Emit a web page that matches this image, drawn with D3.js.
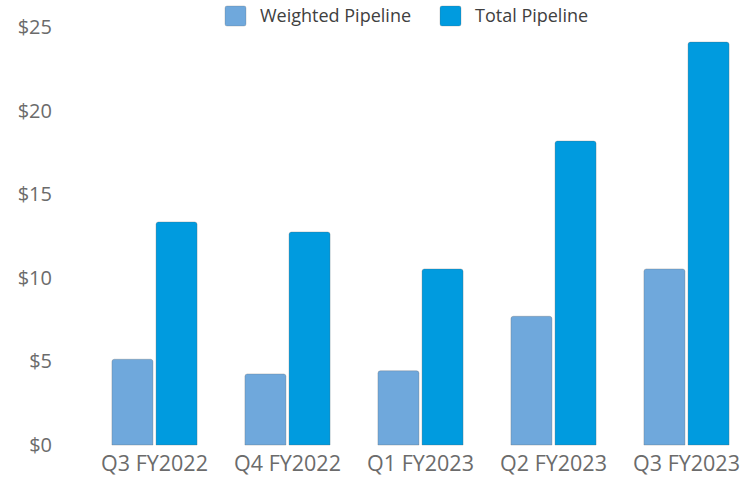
<!DOCTYPE html>
<html>
<head>
<meta charset="utf-8">
<script src="https://cdn.jsdelivr.net/npm/d3@7"></script>
<style>
  html, body { margin: 0; padding: 0; background: #fff; }
  svg { display: block; font-family: "Open Sans", "Liberation Sans", sans-serif; }
</style>
</head>
<body>
<svg id="chart" width="749" height="480"></svg>
<script>
const categories = ["Q3 FY2022", "Q4 FY2022", "Q1 FY2023", "Q2 FY2023", "Q3 FY2023"];
const seriesNames = ["Weighted Pipeline", "Total Pipeline"];
const weighted = [5.13, 4.25, 4.44, 7.7, 10.53];
const total = [13.34, 12.74, 10.53, 18.18, 24.1];
const yTicks = [0, 5, 10, 15, 20, 25];
const colors = ["#6fa8dc", "#009bdf"];

const svg = d3.select("#chart");
const x0 = d3.scaleBand().domain(categories).range([88, 753]).paddingInner(0.36).paddingOuter(0.18);
const x1 = d3.scaleBand().domain(seriesNames).range([0, x0.bandwidth()]).paddingInner(0.07);
const y = d3.scaleLinear().domain([0, 25]).range([445, 27]);
const color = d3.scaleOrdinal().domain(seriesNames).range(colors);

// Y axis (labels only)
const yAxis = svg.append("g").attr("transform", "translate(52,0)")
  .call(d3.axisLeft(y).tickValues(yTicks).tickSize(0).tickPadding(0).tickFormat(d => "$" + d));
yAxis.select(".domain").remove();
yAxis.selectAll("text").attr("fill", "#6b6b6b").style("font-size", "20px")
  .style("font-family", "'Open Sans', sans-serif");

// X axis (labels only)
const xAxis = svg.append("g").attr("transform", "translate(0,445)")
  .call(d3.axisBottom(x0).tickSize(0).tickPadding(11));
xAxis.select(".domain").remove();
xAxis.selectAll("text").attr("fill", "#6b6b6b").style("font-size", "21.5px")
  .style("font-family", "'Open Sans', sans-serif");

// Bars
const data = categories.map((c, i) => ({ cat: c, vals: [
  { key: seriesNames[0], v: weighted[i] },
  { key: seriesNames[1], v: total[i] }
]}));

function roundedTop(xp, yp, w, h, r) {
  return `M${xp},${yp + h}V${yp + r}Q${xp},${yp} ${xp + r},${yp}H${xp + w - r}Q${xp + w},${yp} ${xp + w},${yp + r}V${yp + h}Z`;
}

svg.append("g").selectAll("g").data(data).join("g")
  .attr("transform", d => `translate(${x0(d.cat)},0)`)
  .selectAll("path").data(d => d.vals).join("path")
  .attr("d", d => roundedTop(x1(d.key), y(d.v), x1.bandwidth(), y(0) - y(d.v), 2.5))
  .attr("fill", d => color(d.key))
  .attr("stroke", "rgba(90,90,90,0.35)")
  .attr("stroke-width", 0.8);

// Legend
const legendX = [225, 440];
const legend = svg.append("g");
seriesNames.forEach((s, i) => {
  const g = legend.append("g").attr("transform", `translate(${legendX[i]},6)`);
  g.append("rect").attr("width", 21).attr("height", 20).attr("rx", 2)
    .attr("fill", color(s)).attr("stroke", "rgba(90,90,90,0.3)").attr("stroke-width", 0.8);
  g.append("text").attr("x", 35).attr("y", 10).attr("dy", "0.35em")
    .attr("fill", "#404040").style("font-size", "18px").text(s);
});
</script>
</body>
</html>
